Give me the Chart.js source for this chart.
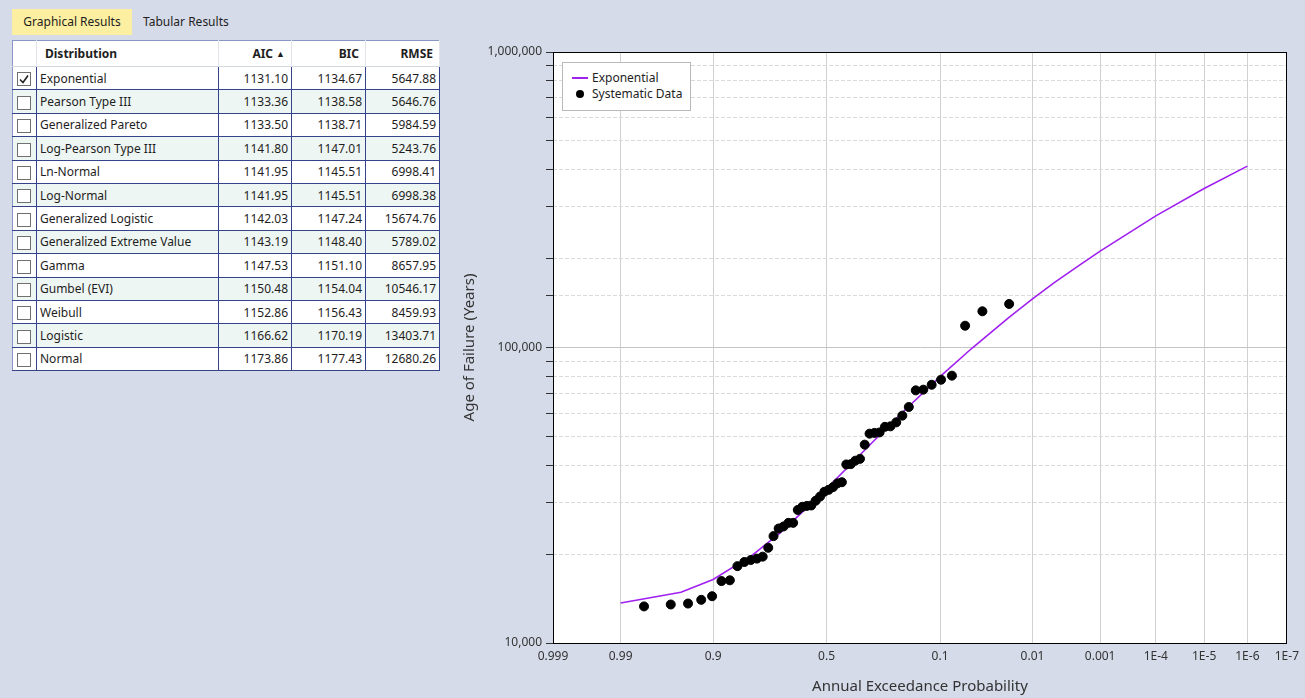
<!DOCTYPE html>
<html>
<head>
<meta charset="utf-8">
<script src="https://cdn.jsdelivr.net/npm/chart.js@4.4.0/dist/chart.umd.min.js"></script>
<style>
  html, body { margin: 0; padding: 0; }
  body {
    width: 1305px; height: 698px; position: relative; overflow: hidden;
    background: #d6dbe9; font-family: "Noto Sans", "Open Sans", sans-serif; font-size: 12px; color: #1e1e1e;
  }
  .tab { position: absolute; top: 9px; height: 26px; line-height: 26px; font-size: 12px; }
  #tabGraph { left: 12px; width: 120px; background: #fcefa1; text-align: center; }
  #tabTable { left: 143px; }
  #fitTable {
    position: absolute; left: 12px; top: 40px; width: 427px;
    border-collapse: collapse; table-layout: fixed; background: #fff;
    border: 1px solid #8a97c4;
  }
  #fitTable th {
    height: 25px; padding: 0 4px; font-weight: bold; font-size: 12px;
    border-right: 1px solid #e2e4ea; border-bottom: 1px solid #d4d8e2; background: #fff;
  }
  #fitTable th.num { text-align: right; padding-right: 6px; }
  #fitTable th.name { text-align: left; padding-left: 8px; }
  #fitTable td {
    height: 22.4px; padding: 0 3px; font-size: 12px; white-space: nowrap;
    border-right: 1px solid #34438a; border-bottom: 1px solid #34438a;
  }
  #fitTable td.num { text-align: right; }
  #fitTable tr.alt td { background: #eef6f3; }
  .cb {
    display: inline-block; width: 12px; height: 12px; border: 1px solid #707070;
    background: #fff; vertical-align: middle; margin-left: 1px; position: relative;
  }
  .cb svg { position: absolute; left: 0; top: 0; }
  .arrow { font-size: 9px; margin-left: 3px; position: relative; top: -1px; }
  #chartBox { position: absolute; left: 455px; top: 35px; width: 850px; height: 663px; }
  #legendBox {
    position: absolute; left: 562px; top: 62px; width: 127px; height: 47px;
    background: #fff; border: 1px solid #b9b9b9; font-size: 12px; color: #1e1e1e;
  }
  .lg-item { position: absolute; left: 0; height: 16px; line-height: 16px; white-space: nowrap; }
  .lg-line { position: absolute; left: 9px; top: 7px; width: 16px; height: 0; border-top: 2px solid; }
  .lg-dot { position: absolute; left: 13px; top: 4px; width: 8px; height: 8px; border-radius: 50%; }
  .lg-text { position: absolute; left: 29px; top: 0; }
</style>
</head>
<body>
<div class="tab" id="tabGraph">Graphical Results</div>
<div class="tab" id="tabTable">Tabular Results</div>
<table id="fitTable">
  <colgroup><col style="width:24px"><col style="width:182px"><col style="width:73px"><col style="width:74px"><col style="width:74px"></colgroup>
  <thead><tr><th></th><th class="name">Distribution</th><th class="num">AIC<span class="arrow">&#9650;</span></th><th class="num">BIC</th><th class="num">RMSE</th></tr></thead>
  <tbody id="fitBody"></tbody>
</table>
<div id="chartBox"><canvas id="freqChart" width="850" height="663"></canvas></div>
<div id="legendBox"></div>

<script>
// goodness-of-fit table
var distNames = ['Exponential', 'Pearson Type III', 'Generalized Pareto', 'Log-Pearson Type III', 'Ln-Normal', 'Log-Normal',
  'Generalized Logistic', 'Generalized Extreme Value', 'Gamma', 'Gumbel (EVI)', 'Weibull', 'Logistic', 'Normal'];
var aicVals = [1131.10, 1133.36, 1133.50, 1141.80, 1141.95, 1141.95, 1142.03, 1143.19, 1147.53, 1150.48, 1152.86, 1166.62, 1173.86];
var bicVals = [1134.67, 1138.58, 1138.71, 1147.01, 1145.51, 1145.51, 1147.24, 1148.40, 1151.10, 1154.04, 1156.43, 1170.19, 1177.43];
var rmseVals = [5647.88, 5646.76, 5984.59, 5243.76, 6998.41, 6998.38, 15674.76, 5789.02, 8657.95, 10546.17, 8459.93, 13403.71, 12680.26];
var checkedDist = ['Exponential'];

// x axis: annual exceedance probability ticks
var probTicks = [0.999, 0.99, 0.9, 0.5, 0.1, 0.01, 0.001, 1e-4, 1e-5, 1e-6, 1e-7];
var probLabels = ['0.999', '0.99', '0.9', '0.5', '0.1', '0.01', '0.001', '1E-4', '1E-5', '1E-6', '1E-7'];

// fitted exponential curve (AEP, age)
var expProb = [0.99, 0.95, 0.9, 0.8, 0.7, 0.6, 0.5, 0.4, 0.3, 0.2, 0.1, 0.05, 0.02, 0.01, 0.005, 0.002, 0.001, 1e-4, 1e-5, 1e-6];
var expValue = [13650, 14850, 16400, 19800, 23600, 28100, 33300, 39700, 48000, 59700, 79700, 99600, 126000, 146000, 166000, 192000, 212000, 279000, 345000, 411000];

// systematic data (plotting position AEP, age)
var obsProb = [0.0196, 0.0392, 0.0588, 0.0784, 0.0980, 0.1176, 0.1373, 0.1569, 0.1765, 0.1961,
  0.2157, 0.2353, 0.2549, 0.2745, 0.2941, 0.3137, 0.3333, 0.3529, 0.3725, 0.3922,
  0.4118, 0.4314, 0.4510, 0.4706, 0.4902, 0.5098, 0.5294, 0.5490, 0.5686, 0.5882,
  0.6078, 0.6275, 0.6471, 0.6667, 0.6863, 0.7059, 0.7255, 0.7451, 0.7647, 0.7843,
  0.8039, 0.8235, 0.8431, 0.8627, 0.8824, 0.9020, 0.9216, 0.9412, 0.9608, 0.9804];
var obsValue = [140400, 132600, 118500, 80300, 77800, 74800, 72000, 71600, 62900, 58800,
  55800, 54100, 53900, 51600, 51400, 51100, 46900, 42000, 41400, 40300,
  40200, 35000, 34700, 33700, 33000, 32500, 31300, 30300, 29200, 29100,
  28900, 28200, 25500, 25500, 24800, 24400, 23000, 21000, 19600, 19300,
  19100, 18800, 18200, 16300, 16200, 14400, 14000, 13600, 13500, 13300];

var fontFamily = '"Noto Sans", "Open Sans", sans-serif';

// build the table rows
var body = document.getElementById('fitBody');
distNames.forEach(function (name, i) {
    var tr = document.createElement('tr');
    if (i % 2 === 1) tr.className = 'alt';
    var box = '<span class="cb">' + (checkedDist.indexOf(name) >= 0
        ? '<svg width="12" height="12"><path d="M2 6.5 L5 9.5 L10 2.5" stroke="#222" stroke-width="1.6" fill="none"/></svg>' : '') + '</span>';
    tr.innerHTML = '<td>' + box + '</td><td>' + name + '</td><td class="num">' + aicVals[i].toFixed(2) +
        '</td><td class="num">' + bicVals[i].toFixed(2) + '</td><td class="num">' + rmseVals[i].toFixed(2) + '</td>';
    body.appendChild(tr);
});

// inverse standard normal (Acklam), used for the probability axis
function invNorm(p) {
    var a = [-3.969683028665376e+01, 2.209460984245205e+02, -2.759285104469687e+02, 1.383577518672690e+02, -3.066479806614716e+01, 2.506628277459239e+00];
    var b = [-5.447609879822406e+01, 1.615858368580409e+02, -1.556989798598866e+02, 6.680131188771972e+01, -1.328068155288572e+01];
    var c = [-7.784894002430293e-03, -3.223964580411365e-01, -2.400758277161838e+00, -2.549732539343734e+00, 4.374664141464968e+00, 2.938163982698783e+00];
    var d = [7.784695709041462e-03, 3.224671290700398e-01, 2.445134137142996e+00, 3.754408661907416e+00];
    var pl = 0.02425, q, r;
    if (p < pl) {
        q = Math.sqrt(-2 * Math.log(p));
        return (((((c[0] * q + c[1]) * q + c[2]) * q + c[3]) * q + c[4]) * q + c[5]) / ((((d[0] * q + d[1]) * q + d[2]) * q + d[3]) * q + 1);
    }
    if (p > 1 - pl) {
        q = Math.sqrt(-2 * Math.log(1 - p));
        return -(((((c[0] * q + c[1]) * q + c[2]) * q + c[3]) * q + c[4]) * q + c[5]) / ((((d[0] * q + d[1]) * q + d[2]) * q + d[3]) * q + 1);
    }
    q = p - 0.5; r = q * q;
    return (((((a[0] * r + a[1]) * r + a[2]) * r + a[3]) * r + a[4]) * r + a[5]) * q / (((((b[0] * r + b[1]) * r + b[2]) * r + b[3]) * r + b[4]) * r + 1);
}
function zOf(aep) { return -invNorm(aep); }
function isDecade(v) { var l = Math.log10(v); return Math.abs(l - Math.round(l)) < 1e-9; }

// white plot area behind the grid
var plotBackground = {
    id: 'plotBackground',
    beforeDraw: function (chart) {
        var a = chart.chartArea, c = chart.ctx;
        c.save();
        c.fillStyle = '#fff';
        c.fillRect(a.left, a.top, a.right - a.left, a.bottom - a.top);
        c.restore();
    }
};

var ctx = document.getElementById('freqChart').getContext('2d');
var freqChart = new Chart(ctx, {
    type: 'scatter',
    plugins: [plotBackground],
    data: {
        datasets: [{
            type: 'line',
            label: 'Exponential',
            data: expProb.map(function (p, i) { return { x: zOf(p), y: expValue[i] }; }),
            borderColor: '#a020f0',
            borderWidth: 1.6,
            pointRadius: 0,
            fill: false,
            tension: 0,
            order: 1
        }, {
            label: 'Systematic Data',
            data: obsProb.map(function (p, i) { return { x: zOf(p), y: obsValue[i] }; }),
            backgroundColor: '#000',
            borderColor: '#000',
            pointRadius: 4.5,
            order: 0
        }]
    },
    options: {
        responsive: false,
        animation: false,
        devicePixelRatio: 1,
        layout: { padding: { top: 17, right: 18, left: 0, bottom: 0 } },
        plugins: { legend: { display: false }, tooltip: { enabled: false } },
        scales: {
            x: {
                type: 'linear',
                min: zOf(0.999),
                max: zOf(1e-7),
                afterBuildTicks: function (s) { s.ticks = probTicks.map(function (p) { return { value: zOf(p) }; }); },
                afterFit: function (s) { s.height = 55; },
                ticks: {
                    autoSkip: false, maxRotation: 0, padding: 6, color: '#333',
                    font: { family: fontFamily, size: 12 },
                    callback: function (v, i) { return probLabels[i]; }
                },
                grid: { color: '#d0d0d0', drawTicks: false },
                border: { color: '#000' },
                title: {
                    display: true, text: 'Annual Exceedance Probability', color: '#333',
                    font: { family: fontFamily, size: 15 }, padding: { top: 0, bottom: 2 }
                }
            },
            y: {
                type: 'logarithmic',
                min: 10000,
                max: 1000000,
                afterFit: function (s) { s.width = 98; },
                ticks: {
                    autoSkip: false, color: '#333', padding: 4,
                    font: { family: fontFamily, size: 12 },
                    callback: function (v) { return isDecade(v) ? Number(v).toLocaleString('en-US') : ''; }
                },
                grid: {
                    color: function (c) { return isDecade(c.tick.value) ? '#c4c4c4' : 'rgba(0,0,0,0)'; },
                    tickColor: '#333', tickLength: 7
                },
                border: { color: '#000' },
                title: {
                    display: true, text: 'Age of Failure (Years)', color: '#333',
                    font: { family: fontFamily, size: 15 }, padding: { top: 6, bottom: 0 }
                }
            },
            yMinor: {
                type: 'logarithmic',
                position: 'left',
                min: 10000,
                max: 1000000,
                afterFit: function (s) { s.width = 0; },
                ticks: { display: false },
                grid: {
                    drawTicks: false,
                    color: function (c) { return isDecade(c.tick.value) ? 'rgba(0,0,0,0)' : '#dadada'; }
                },
                border: { display: false, dash: [4, 2] }
            },
            xTop: {
                type: 'linear', position: 'top',
                afterFit: function (s) { s.height = 0; },
                ticks: { display: false }, grid: { display: false },
                border: { color: '#000' }
            },
            yRight: {
                type: 'linear', position: 'right',
                afterFit: function (s) { s.width = 0; },
                ticks: { display: false }, grid: { display: false },
                border: { color: '#000' }
            }
        }
    }
});

// legend box inside the plot, built from the chart's datasets
var legendBox = document.getElementById('legendBox');
freqChart.data.datasets.forEach(function (ds, i) {
    var item = document.createElement('div');
    item.className = 'lg-item';
    item.style.top = (7 + i * 16) + 'px';
    var mark = ds.pointRadius === 0
        ? '<span class="lg-line" style="border-color:' + ds.borderColor + '"></span>'
        : '<span class="lg-dot" style="background:' + ds.backgroundColor + '"></span>';
    item.innerHTML = mark + '<span class="lg-text">' + ds.label + '</span>';
    legendBox.appendChild(item);
});
</script>
</body>
</html>
